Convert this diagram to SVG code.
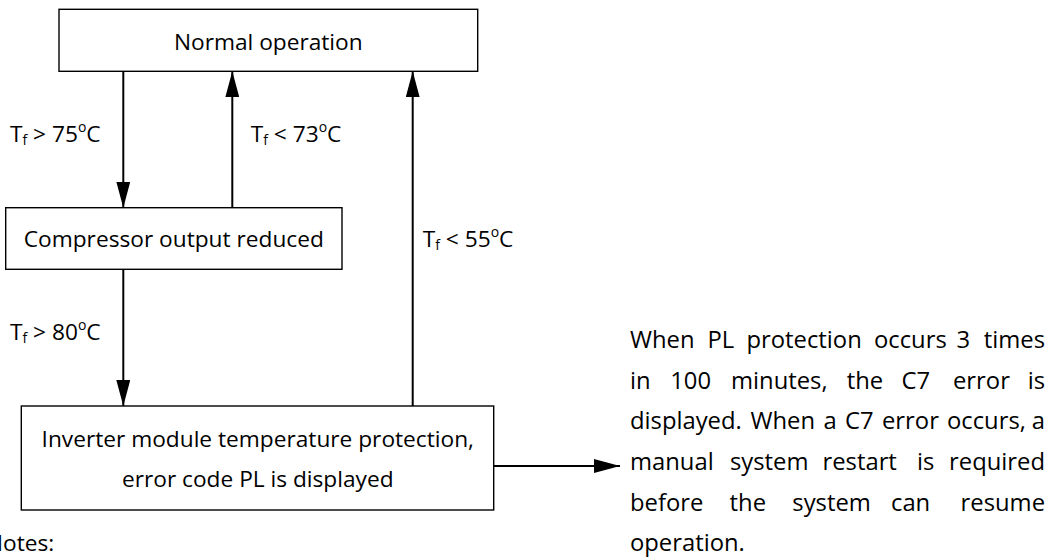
<svg xmlns="http://www.w3.org/2000/svg" width="1051" height="560" viewBox="0 0 1051 560">
<style>
  .box { fill: #ffffff; stroke: #000000; stroke-width: 1.4; }
  .t { font-family: "Open Sans", "Noto Sans", "Liberation Sans", sans-serif; font-size: 22.7px; fill: #000000; }
  .p { font-size: 23.8px; }
  .c { text-anchor: middle; }
  .e { text-anchor: end; }
  .sub { font-size: 14px; }
  .sup { font-size: 14px; }
  .conn { stroke: #000000; stroke-width: 2; fill: none; marker-end: url(#arr); }
</style>
<defs>
  <marker id="arr" viewBox="0 0 26 14" refX="26" refY="7" markerWidth="26" markerHeight="14" markerUnits="userSpaceOnUse" orient="auto">
    <path d="M0,0 L26,7 L0,14 Z" fill="#000000"/>
  </marker>
</defs>
<rect width="1051" height="560" fill="#ffffff"/>

<g id="connectors">
  <line class="conn" x1="123.3" y1="71.3" x2="123.3" y2="207.7"/>
  <line class="conn" x1="232.3" y1="207.7" x2="232.3" y2="71.3"/>
  <line class="conn" x1="412.7" y1="406" x2="412.7" y2="71.3"/>
  <line class="conn" x1="123.3" y1="269.3" x2="123.3" y2="406"/>
  <line class="conn" x1="493.7" y1="466" x2="620" y2="466"/>
</g>

<g id="labels">
  <text class="t" x="10" y="141.5">T<tspan class="sub" dy="3">f</tspan><tspan dy="-3"> &gt; 75</tspan><tspan class="sup" dy="-10">o</tspan><tspan dy="10">C</tspan></text>
  <text class="t" x="250.7" y="141.5">T<tspan class="sub" dy="3">f</tspan><tspan dy="-3"> &lt; 73</tspan><tspan class="sup" dy="-10">o</tspan><tspan dy="10">C</tspan></text>
  <text class="t" x="422.7" y="247">T<tspan class="sub" dy="3">f</tspan><tspan dy="-3"> &lt; 55</tspan><tspan class="sup" dy="-10">o</tspan><tspan dy="10">C</tspan></text>
  <text class="t" x="10" y="339.5">T<tspan class="sub" dy="3">f</tspan><tspan dy="-3"> &gt; 80</tspan><tspan class="sup" dy="-10">o</tspan><tspan dy="10">C</tspan></text>
</g>

<g id="node-normal">
  <rect class="box" x="59" y="9.3" width="418.7" height="62"/>
  <text class="t c" x="268.3" y="50">Normal operation</text>
</g>

<g id="node-compressor">
  <rect class="box" x="5.7" y="207.7" width="336.3" height="61.6"/>
  <text class="t c" x="173.8" y="247">Compressor output reduced</text>
</g>

<g id="node-inverter">
  <rect class="box" x="21.3" y="406" width="472.4" height="104"/>
  <text class="t c" x="257.8" y="446.7">Inverter module temperature protection,</text>
  <text class="t c" x="257.8" y="487.3">error code PL is displayed</text>
</g>

<g id="note-text">
  <text class="t p" y="348"><tspan x="630">When</tspan><tspan x="707.5">PL</tspan><tspan x="746.5">protection</tspan><tspan x="874">occurs</tspan><tspan x="956.5">3</tspan><tspan x="1045" text-anchor="end">times</tspan></text>
  <text class="t p" y="388.7"><tspan x="630">in</tspan><tspan x="670.2">100</tspan><tspan x="731">minutes,</tspan><tspan x="846.7">the</tspan><tspan x="901.5">C7</tspan><tspan x="953">error</tspan><tspan x="1045" text-anchor="end">is</tspan></text>
  <text class="t p" y="429.3"><tspan x="630">displayed.</tspan><tspan x="750.5">When</tspan><tspan x="823.5">a</tspan><tspan x="845">C7</tspan><tspan x="882">error</tspan><tspan x="947">occurs,</tspan><tspan x="1045" text-anchor="end">a</tspan></text>
  <text class="t p" y="470"><tspan x="630">manual</tspan><tspan x="730">system</tspan><tspan x="822.5">restart</tspan><tspan x="917">is</tspan><tspan x="1045" text-anchor="end">required</tspan></text>
  <text class="t p" y="510.7"><tspan x="630">before</tspan><tspan x="729.6">the</tspan><tspan x="792.3">system</tspan><tspan x="891">can</tspan><tspan x="1045" text-anchor="end">resume</tspan></text>
  <text class="t p" x="630" y="551">operation.</text>
</g>

<text class="t" x="-14" y="550.7">Notes:</text>
</svg>
